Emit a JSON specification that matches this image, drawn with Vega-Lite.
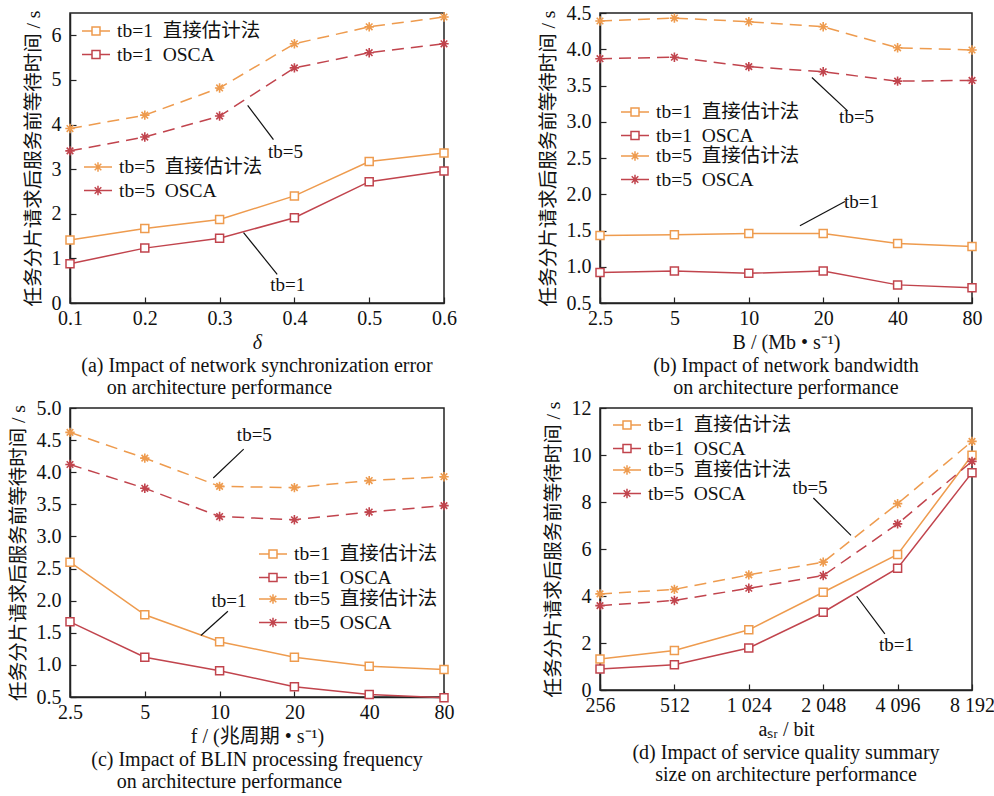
{
  "$schema": "https://vega.github.io/schema/vega-lite/v6.json",
  "padding": {"left": 7, "top": 2, "right": 5, "bottom": 5},
  "background": "white",
  "config": {
    "font": "Liberation Serif, Noto Sans CJK SC",
    "view": {"stroke": "#222", "strokeWidth": 1.5},
    "axis": {
      "grid": false, "domainColor": "#222", "domainWidth": 1.5, "tickColor": "#222", "tickSize": -6, "tickWidth": 1.2,
      "labelFont": "Liberation Serif", "labelFontSize": 20, "labelColor": "#111", "labelFlush": false, "labelOverlap": false,
      "titleFont": "Liberation Serif, Noto Sans CJK SC", "titleFontSize": 19.5, "titleFontWeight": "normal", "titleColor": "#111"
    },
    "axisX": {"labelPadding": 11, "titlePadding": 4, "titleFontSize": 20},
    "axisY": {"labelPadding": 15, "titlePadding": 8},
    "legend": {
      "title": null, "labelFont": "Liberation Serif, Noto Sans CJK SC", "labelFontSize": 19.5, "labelColor": "#111", "labelLimit": 400,
      "symbolSize": 400, "symbolStrokeWidth": 1.5, "symbolFillColor": "white", "rowPadding": 2.5, "labelOffset": 10, "padding": 0
    },
    "title": {"orient": "bottom", "anchor": "middle", "frame": "group", "font": "Liberation Serif", "fontSize": 20, "fontWeight": "normal", "lineHeight": 22, "offset": 4, "color": "#111"}
  },
  "datasets": {
    "a": [
      {"x": 0.1, "tb": 1, "s": "tb=1\u00a0\u00a0直接估计法", "y": 1.41}, {"x": 0.2, "tb": 1, "s": "tb=1\u00a0\u00a0直接估计法", "y": 1.67}, {"x": 0.3, "tb": 1, "s": "tb=1\u00a0\u00a0直接估计法", "y": 1.87},
      {"x": 0.4, "tb": 1, "s": "tb=1\u00a0\u00a0直接估计法", "y": 2.40}, {"x": 0.5, "tb": 1, "s": "tb=1\u00a0\u00a0直接估计法", "y": 3.17}, {"x": 0.6, "tb": 1, "s": "tb=1\u00a0\u00a0直接估计法", "y": 3.36},
      {"x": 0.1, "tb": 1, "s": "tb=1\u00a0\u00a0OSCA", "y": 0.88}, {"x": 0.2, "tb": 1, "s": "tb=1\u00a0\u00a0OSCA", "y": 1.23}, {"x": 0.3, "tb": 1, "s": "tb=1\u00a0\u00a0OSCA", "y": 1.45},
      {"x": 0.4, "tb": 1, "s": "tb=1\u00a0\u00a0OSCA", "y": 1.91}, {"x": 0.5, "tb": 1, "s": "tb=1\u00a0\u00a0OSCA", "y": 2.72}, {"x": 0.6, "tb": 1, "s": "tb=1\u00a0\u00a0OSCA", "y": 2.96},
      {"x": 0.1, "tb": 5, "s": "tb=5\u00a0\u00a0直接估计法", "y": 3.91}, {"x": 0.2, "tb": 5, "s": "tb=5\u00a0\u00a0直接估计法", "y": 4.21}, {"x": 0.3, "tb": 5, "s": "tb=5\u00a0\u00a0直接估计法", "y": 4.82},
      {"x": 0.4, "tb": 5, "s": "tb=5\u00a0\u00a0直接估计法", "y": 5.81}, {"x": 0.5, "tb": 5, "s": "tb=5\u00a0\u00a0直接估计法", "y": 6.19}, {"x": 0.6, "tb": 5, "s": "tb=5\u00a0\u00a0直接估计法", "y": 6.41},
      {"x": 0.1, "tb": 5, "s": "tb=5\u00a0\u00a0OSCA", "y": 3.41}, {"x": 0.2, "tb": 5, "s": "tb=5\u00a0\u00a0OSCA", "y": 3.72}, {"x": 0.3, "tb": 5, "s": "tb=5\u00a0\u00a0OSCA", "y": 4.19},
      {"x": 0.4, "tb": 5, "s": "tb=5\u00a0\u00a0OSCA", "y": 5.27}, {"x": 0.5, "tb": 5, "s": "tb=5\u00a0\u00a0OSCA", "y": 5.61}, {"x": 0.6, "tb": 5, "s": "tb=5\u00a0\u00a0OSCA", "y": 5.81}
    ],
    "a_notes": [
      {"x": 0.3375, "y": 4.43, "x2": 0.372, "y2": 3.66, "tx": 0.388, "ty": 3.39, "label": "tb=5"},
      {"x": 0.332, "y": 1.58, "x2": 0.377, "y2": 0.64, "tx": 0.391, "ty": 0.40, "label": "tb=1"}
    ],
    "b": [
      {"x": 2.5, "tb": 1, "s": "tb=1\u00a0\u00a0直接估计法", "y": 1.43}, {"x": 5, "tb": 1, "s": "tb=1\u00a0\u00a0直接估计法", "y": 1.44}, {"x": 10, "tb": 1, "s": "tb=1\u00a0\u00a0直接估计法", "y": 1.46},
      {"x": 20, "tb": 1, "s": "tb=1\u00a0\u00a0直接估计法", "y": 1.46}, {"x": 40, "tb": 1, "s": "tb=1\u00a0\u00a0直接估计法", "y": 1.32}, {"x": 80, "tb": 1, "s": "tb=1\u00a0\u00a0直接估计法", "y": 1.28},
      {"x": 2.5, "tb": 1, "s": "tb=1\u00a0\u00a0OSCA", "y": 0.92}, {"x": 5, "tb": 1, "s": "tb=1\u00a0\u00a0OSCA", "y": 0.94}, {"x": 10, "tb": 1, "s": "tb=1\u00a0\u00a0OSCA", "y": 0.91},
      {"x": 20, "tb": 1, "s": "tb=1\u00a0\u00a0OSCA", "y": 0.94}, {"x": 40, "tb": 1, "s": "tb=1\u00a0\u00a0OSCA", "y": 0.75}, {"x": 80, "tb": 1, "s": "tb=1\u00a0\u00a0OSCA", "y": 0.71},
      {"x": 2.5, "tb": 5, "s": "tb=5\u00a0\u00a0直接估计法", "y": 4.39}, {"x": 5, "tb": 5, "s": "tb=5\u00a0\u00a0直接估计法", "y": 4.43}, {"x": 10, "tb": 5, "s": "tb=5\u00a0\u00a0直接估计法", "y": 4.38},
      {"x": 20, "tb": 5, "s": "tb=5\u00a0\u00a0直接估计法", "y": 4.31}, {"x": 40, "tb": 5, "s": "tb=5\u00a0\u00a0直接估计法", "y": 4.02}, {"x": 80, "tb": 5, "s": "tb=5\u00a0\u00a0直接估计法", "y": 3.99},
      {"x": 2.5, "tb": 5, "s": "tb=5\u00a0\u00a0OSCA", "y": 3.87}, {"x": 5, "tb": 5, "s": "tb=5\u00a0\u00a0OSCA", "y": 3.89}, {"x": 10, "tb": 5, "s": "tb=5\u00a0\u00a0OSCA", "y": 3.76},
      {"x": 20, "tb": 5, "s": "tb=5\u00a0\u00a0OSCA", "y": 3.69}, {"x": 40, "tb": 5, "s": "tb=5\u00a0\u00a0OSCA", "y": 3.56}, {"x": 80, "tb": 5, "s": "tb=5\u00a0\u00a0OSCA", "y": 3.57}
    ],
    "b_notes": [
      {"x": 18.0, "y": 3.61, "x2": 25.1, "y2": 3.15, "tx": 27.3, "ty": 3.06, "label": "tb=5"},
      {"x": 16.1, "y": 1.565, "x2": 24.5, "y2": 1.90, "tx": 28.6, "ty": 1.90, "label": "tb=1"}
    ],
    "c": [
      {"x": 2.5, "tb": 1, "s": "tb=1\u00a0\u00a0直接估计法", "y": 2.60}, {"x": 5, "tb": 1, "s": "tb=1\u00a0\u00a0直接估计法", "y": 1.78}, {"x": 10, "tb": 1, "s": "tb=1\u00a0\u00a0直接估计法", "y": 1.36},
      {"x": 20, "tb": 1, "s": "tb=1\u00a0\u00a0直接估计法", "y": 1.12}, {"x": 40, "tb": 1, "s": "tb=1\u00a0\u00a0直接估计法", "y": 0.98}, {"x": 80, "tb": 1, "s": "tb=1\u00a0\u00a0直接估计法", "y": 0.93},
      {"x": 2.5, "tb": 1, "s": "tb=1\u00a0\u00a0OSCA", "y": 1.67}, {"x": 5, "tb": 1, "s": "tb=1\u00a0\u00a0OSCA", "y": 1.12}, {"x": 10, "tb": 1, "s": "tb=1\u00a0\u00a0OSCA", "y": 0.91},
      {"x": 20, "tb": 1, "s": "tb=1\u00a0\u00a0OSCA", "y": 0.66}, {"x": 40, "tb": 1, "s": "tb=1\u00a0\u00a0OSCA", "y": 0.54}, {"x": 80, "tb": 1, "s": "tb=1\u00a0\u00a0OSCA", "y": 0.49},
      {"x": 2.5, "tb": 5, "s": "tb=5\u00a0\u00a0直接估计法", "y": 4.62}, {"x": 5, "tb": 5, "s": "tb=5\u00a0\u00a0直接估计法", "y": 4.22}, {"x": 10, "tb": 5, "s": "tb=5\u00a0\u00a0直接估计法", "y": 3.78},
      {"x": 20, "tb": 5, "s": "tb=5\u00a0\u00a0直接估计法", "y": 3.76}, {"x": 40, "tb": 5, "s": "tb=5\u00a0\u00a0直接估计法", "y": 3.87}, {"x": 80, "tb": 5, "s": "tb=5\u00a0\u00a0直接估计法", "y": 3.93},
      {"x": 2.5, "tb": 5, "s": "tb=5\u00a0\u00a0OSCA", "y": 4.12}, {"x": 5, "tb": 5, "s": "tb=5\u00a0\u00a0OSCA", "y": 3.75}, {"x": 10, "tb": 5, "s": "tb=5\u00a0\u00a0OSCA", "y": 3.31},
      {"x": 20, "tb": 5, "s": "tb=5\u00a0\u00a0OSCA", "y": 3.26}, {"x": 40, "tb": 5, "s": "tb=5\u00a0\u00a0OSCA", "y": 3.38}, {"x": 80, "tb": 5, "s": "tb=5\u00a0\u00a0OSCA", "y": 3.48}
    ],
    "c_notes": [
      {"x": 9.43, "y": 3.91, "x2": 12.5, "y2": 4.36, "tx": 13.8, "ty": 4.58, "label": "tb=5"},
      {"x": 8.41, "y": 1.458, "x2": 10.8, "y2": 1.835, "tx": 10.9, "ty": 2.0, "label": "tb=1"}
    ],
    "d": [
      {"x": 256, "tb": 1, "s": "tb=1\u00a0\u00a0直接估计法", "y": 1.32}, {"x": 512, "tb": 1, "s": "tb=1\u00a0\u00a0直接估计法", "y": 1.68}, {"x": 1024, "tb": 1, "s": "tb=1\u00a0\u00a0直接估计法", "y": 2.56},
      {"x": 2048, "tb": 1, "s": "tb=1\u00a0\u00a0直接估计法", "y": 4.16}, {"x": 4096, "tb": 1, "s": "tb=1\u00a0\u00a0直接估计法", "y": 5.77}, {"x": 8192, "tb": 1, "s": "tb=1\u00a0\u00a0直接估计法", "y": 9.99},
      {"x": 256, "tb": 1, "s": "tb=1\u00a0\u00a0OSCA", "y": 0.89}, {"x": 512, "tb": 1, "s": "tb=1\u00a0\u00a0OSCA", "y": 1.07}, {"x": 1024, "tb": 1, "s": "tb=1\u00a0\u00a0OSCA", "y": 1.79},
      {"x": 2048, "tb": 1, "s": "tb=1\u00a0\u00a0OSCA", "y": 3.31}, {"x": 4096, "tb": 1, "s": "tb=1\u00a0\u00a0OSCA", "y": 5.18}, {"x": 8192, "tb": 1, "s": "tb=1\u00a0\u00a0OSCA", "y": 9.25},
      {"x": 256, "tb": 5, "s": "tb=5\u00a0\u00a0直接估计法", "y": 4.09}, {"x": 512, "tb": 5, "s": "tb=5\u00a0\u00a0直接估计法", "y": 4.28}, {"x": 1024, "tb": 5, "s": "tb=5\u00a0\u00a0直接估计法", "y": 4.90},
      {"x": 2048, "tb": 5, "s": "tb=5\u00a0\u00a0直接估计法", "y": 5.44}, {"x": 4096, "tb": 5, "s": "tb=5\u00a0\u00a0直接估计法", "y": 7.93}, {"x": 8192, "tb": 5, "s": "tb=5\u00a0\u00a0直接估计法", "y": 10.58},
      {"x": 256, "tb": 5, "s": "tb=5\u00a0\u00a0OSCA", "y": 3.59}, {"x": 512, "tb": 5, "s": "tb=5\u00a0\u00a0OSCA", "y": 3.81}, {"x": 1024, "tb": 5, "s": "tb=5\u00a0\u00a0OSCA", "y": 4.33},
      {"x": 2048, "tb": 5, "s": "tb=5\u00a0\u00a0OSCA", "y": 4.87}, {"x": 4096, "tb": 5, "s": "tb=5\u00a0\u00a0OSCA", "y": 7.07}, {"x": 8192, "tb": 5, "s": "tb=5\u00a0\u00a0OSCA", "y": 9.73}
    ],
    "d_notes": [
      {"x": 1869, "y": 8.17, "x2": 2653, "y2": 6.58, "tx": 1813, "ty": 8.59, "label": "tb=5"},
      {"x": 2798, "y": 3.99, "x2": 3637, "y2": 2.39, "tx": 4056, "ty": 1.93, "label": "tb=1"}
    ]
  },
  "columns": 2,
  "bounds": "flush",
  "spacing": {"row": 105, "column": 156},
  "concat": [
    {
      "width": 374, "height": 290,
      "title": {"text": ["(a) Impact of network synchronization error", "on architecture performance\u00a0\u00a0\u00a0\u00a0\u00a0\u00a0\u00a0\u00a0\u00a0\u00a0\u00a0\u00a0\u00a0\u00a0\u00a0\u200b"]},
      "encoding": {
        "x": {"field": "x", "type": "quantitative", "scale": {"domain": [0.1, 0.6], "nice": false, "zero": false}, "axis": {"values": [0.1, 0.2, 0.3, 0.4, 0.5, 0.6], "format": ".1f", "title": "δ", "titleFontStyle": "italic"}},
        "y": {"field": "y", "type": "quantitative", "scale": {"domain": [0, 6.5], "nice": false}, "axis": {"values": [0, 1, 2, 3, 4, 5, 6], "format": "d", "title": "任务分片请求后服务前等待时间 / s"}}
      },
      "layer": [
        {
          "data": {"name": "a"}, "transform": [{"filter": "datum.tb == 1"}],
          "encoding": {"stroke": {"field": "s", "type": "nominal", "scale": {"domain": ["tb=1\u00a0\u00a0直接估计法", "tb=1\u00a0\u00a0OSCA"], "range": ["#EE9B4E", "#C1444D"]}, "legend": {"orient": "none", "legendX": 15, "legendY": 7, "symbolType": "M-1.4,0H-0.4M0.4,0H1.4M-0.4,-0.4H0.4V0.4H-0.4Z"}}},
          "layer": [
            {"mark": {"type": "line", "strokeWidth": 1.5}},
            {"mark": {"type": "point", "shape": "square", "size": 64, "filled": true, "fill": "white", "strokeWidth": 1.5, "opacity": 1}}
          ]
        },
        {
          "data": {"name": "a"}, "transform": [{"filter": "datum.tb == 5"}],
          "encoding": {"stroke": {"field": "s", "type": "nominal", "scale": {"domain": ["tb=5\u00a0\u00a0直接估计法", "tb=5\u00a0\u00a0OSCA"], "range": ["#EE9B4E", "#C1444D"]}, "legend": {"orient": "none", "legendX": 17, "legendY": 143, "symbolType": "M-1.4,0H1.4M0,-0.47V0.47M-0.33,-0.33L0.33,0.33M-0.33,0.33L0.33,-0.33"}}},
          "layer": [
            {"mark": {"type": "line", "strokeWidth": 1.5, "strokeDash": [12, 7]}},
            {"mark": {"type": "point", "shape": "M0,-1V1M-1,0H1M-0.7,-0.7L0.7,0.7M-0.7,0.7L0.7,-0.7", "size": 88, "filled": false, "strokeWidth": 1.6, "opacity": 1}}
          ]
        },
        {
          "data": {"name": "a_notes"},
          "layer": [
            {"mark": {"type": "rule", "color": "#111", "strokeWidth": 1.2}, "encoding": {"x2": {"field": "x2"}, "y2": {"field": "y2"}}},
            {"mark": {"type": "text", "fontSize": 19, "color": "#111", "font": "Liberation Serif"}, "encoding": {"x": {"field": "tx", "type": "quantitative"}, "y": {"field": "ty", "type": "quantitative"}, "text": {"field": "label"}}}
          ]
        }
      ],
      "resolve": {"scale": {"stroke": "independent"}}
    },
    {
      "width": 372, "height": 290,
      "title": {"text": ["(b) Impact of network bandwidth", "on architecture performance"]},
      "encoding": {
        "x": {"field": "x", "type": "quantitative", "scale": {"type": "log", "base": 2, "domain": [2.5, 80], "nice": false}, "axis": {"values": [2.5, 5, 10, 20, 40, 80], "format": "~g", "title": "B / (Mb • s⁻¹)"}},
        "y": {"field": "y", "type": "quantitative", "scale": {"domain": [0.5, 4.5], "nice": false, "zero": false}, "axis": {"values": [0.5, 1, 1.5, 2, 2.5, 3, 3.5, 4, 4.5], "format": ".1f", "title": "任务分片请求后服务前等待时间 / s"}}
      },
      "layer": [
        {
          "data": {"name": "b"}, "transform": [{"filter": "datum.tb == 1"}],
          "encoding": {"stroke": {"field": "s", "type": "nominal", "scale": {"domain": ["tb=1\u00a0\u00a0直接估计法", "tb=1\u00a0\u00a0OSCA"], "range": ["#EE9B4E", "#C1444D"]}, "legend": {"orient": "none", "legendX": 24, "legendY": 88, "symbolType": "M-1.4,0H-0.4M0.4,0H1.4M-0.4,-0.4H0.4V0.4H-0.4Z"}}},
          "layer": [
            {"mark": {"type": "line", "strokeWidth": 1.5}},
            {"mark": {"type": "point", "shape": "square", "size": 64, "filled": true, "fill": "white", "strokeWidth": 1.5, "opacity": 1}}
          ]
        },
        {
          "data": {"name": "b"}, "transform": [{"filter": "datum.tb == 5"}],
          "encoding": {"stroke": {"field": "s", "type": "nominal", "scale": {"domain": ["tb=5\u00a0\u00a0直接估计法", "tb=5\u00a0\u00a0OSCA"], "range": ["#EE9B4E", "#C1444D"]}, "legend": {"orient": "none", "legendX": 24, "legendY": 132, "symbolType": "M-1.4,0H1.4M0,-0.47V0.47M-0.33,-0.33L0.33,0.33M-0.33,0.33L0.33,-0.33"}}},
          "layer": [
            {"mark": {"type": "line", "strokeWidth": 1.5, "strokeDash": [12, 7]}},
            {"mark": {"type": "point", "shape": "M0,-1V1M-1,0H1M-0.7,-0.7L0.7,0.7M-0.7,0.7L0.7,-0.7", "size": 88, "filled": false, "strokeWidth": 1.6, "opacity": 1}}
          ]
        },
        {
          "data": {"name": "b_notes"},
          "layer": [
            {"mark": {"type": "rule", "color": "#111", "strokeWidth": 1.2}, "encoding": {"x2": {"field": "x2"}, "y2": {"field": "y2"}}},
            {"mark": {"type": "text", "fontSize": 19, "color": "#111", "font": "Liberation Serif"}, "encoding": {"x": {"field": "tx", "type": "quantitative"}, "y": {"field": "ty", "type": "quantitative"}, "text": {"field": "label"}}}
          ]
        }
      ],
      "resolve": {"scale": {"stroke": "independent"}}
    },
    {
      "width": 374, "height": 289,
      "title": {"text": ["(c) Impact of BLIN processing frequency", "on architecture performance\u00a0\u00a0\u00a0\u00a0\u00a0\u00a0\u00a0\u00a0\u00a0\u00a0\u00a0\u200b"]},
      "encoding": {
        "x": {"field": "x", "type": "quantitative", "scale": {"type": "log", "base": 2, "domain": [2.5, 80], "nice": false}, "axis": {"values": [2.5, 5, 10, 20, 40, 80], "format": "~g", "title": "f / (兆周期 • s⁻¹)"}},
        "y": {"field": "y", "type": "quantitative", "scale": {"domain": [0.5, 5.0], "nice": false, "zero": false}, "axis": {"values": [0.5, 1, 1.5, 2, 2.5, 3, 3.5, 4, 4.5, 5], "format": ".1f", "title": "任务分片请求后服务前等待时间 / s"}}
      },
      "layer": [
        {
          "data": {"name": "c"}, "transform": [{"filter": "datum.tb == 1"}],
          "encoding": {"stroke": {"field": "s", "type": "nominal", "scale": {"domain": ["tb=1\u00a0\u00a0直接估计法", "tb=1\u00a0\u00a0OSCA"], "range": ["#EE9B4E", "#C1444D"]}, "legend": {"orient": "none", "legendX": 192, "legendY": 135, "symbolType": "M-1.4,0H-0.4M0.4,0H1.4M-0.4,-0.4H0.4V0.4H-0.4Z"}}},
          "layer": [
            {"mark": {"type": "line", "strokeWidth": 1.5}},
            {"mark": {"type": "point", "shape": "square", "size": 64, "filled": true, "fill": "white", "strokeWidth": 1.5, "opacity": 1}}
          ]
        },
        {
          "data": {"name": "c"}, "transform": [{"filter": "datum.tb == 5"}],
          "encoding": {"stroke": {"field": "s", "type": "nominal", "scale": {"domain": ["tb=5\u00a0\u00a0直接估计法", "tb=5\u00a0\u00a0OSCA"], "range": ["#EE9B4E", "#C1444D"]}, "legend": {"orient": "none", "legendX": 192, "legendY": 180, "symbolType": "M-1.4,0H1.4M0,-0.47V0.47M-0.33,-0.33L0.33,0.33M-0.33,0.33L0.33,-0.33"}}},
          "layer": [
            {"mark": {"type": "line", "strokeWidth": 1.5, "strokeDash": [12, 7]}},
            {"mark": {"type": "point", "shape": "M0,-1V1M-1,0H1M-0.7,-0.7L0.7,0.7M-0.7,0.7L0.7,-0.7", "size": 88, "filled": false, "strokeWidth": 1.6, "opacity": 1}}
          ]
        },
        {
          "data": {"name": "c_notes"},
          "layer": [
            {"mark": {"type": "rule", "color": "#111", "strokeWidth": 1.2}, "encoding": {"x2": {"field": "x2"}, "y2": {"field": "y2"}}},
            {"mark": {"type": "text", "fontSize": 19, "color": "#111", "font": "Liberation Serif"}, "encoding": {"x": {"field": "tx", "type": "quantitative"}, "y": {"field": "ty", "type": "quantitative"}, "text": {"field": "label"}}}
          ]
        }
      ],
      "resolve": {"scale": {"stroke": "independent"}}
    },
    {
      "width": 372, "height": 282,
      "title": {"text": ["(d) Impact of service quality summary", "size on architecture performance"]},
      "encoding": {
        "x": {"field": "x", "type": "quantitative", "scale": {"type": "log", "base": 2, "domain": [256, 8192], "nice": false}, "axis": {"values": [256, 512, 1024, 2048, 4096, 8192], "labelExpr": "replace(format(datum.value, ','), ',', ' ')", "title": "aₛᵣ / bit"}},
        "y": {"field": "y", "type": "quantitative", "scale": {"domain": [0, 12], "nice": false}, "axis": {"values": [0, 2, 4, 6, 8, 10, 12], "format": "d", "title": "任务分片请求后服务前等待时间 / s"}}
      },
      "layer": [
        {
          "data": {"name": "d"}, "transform": [{"filter": "datum.tb == 1"}],
          "encoding": {"stroke": {"field": "s", "type": "nominal", "scale": {"domain": ["tb=1\u00a0\u00a0直接估计法", "tb=1\u00a0\u00a0OSCA"], "range": ["#EE9B4E", "#C1444D"]}, "legend": {"orient": "none", "legendX": 16, "legendY": 6, "symbolType": "M-1.4,0H-0.4M0.4,0H1.4M-0.4,-0.4H0.4V0.4H-0.4Z"}}},
          "layer": [
            {"mark": {"type": "line", "strokeWidth": 1.5}},
            {"mark": {"type": "point", "shape": "square", "size": 64, "filled": true, "fill": "white", "strokeWidth": 1.5, "opacity": 1}}
          ]
        },
        {
          "data": {"name": "d"}, "transform": [{"filter": "datum.tb == 5"}],
          "encoding": {"stroke": {"field": "s", "type": "nominal", "scale": {"domain": ["tb=5\u00a0\u00a0直接估计法", "tb=5\u00a0\u00a0OSCA"], "range": ["#EE9B4E", "#C1444D"]}, "legend": {"orient": "none", "legendX": 16, "legendY": 51, "symbolType": "M-1.4,0H1.4M0,-0.47V0.47M-0.33,-0.33L0.33,0.33M-0.33,0.33L0.33,-0.33"}}},
          "layer": [
            {"mark": {"type": "line", "strokeWidth": 1.5, "strokeDash": [12, 7]}},
            {"mark": {"type": "point", "shape": "M0,-1V1M-1,0H1M-0.7,-0.7L0.7,0.7M-0.7,0.7L0.7,-0.7", "size": 88, "filled": false, "strokeWidth": 1.6, "opacity": 1}}
          ]
        },
        {
          "data": {"name": "d_notes"},
          "layer": [
            {"mark": {"type": "rule", "color": "#111", "strokeWidth": 1.2}, "encoding": {"x2": {"field": "x2"}, "y2": {"field": "y2"}}},
            {"mark": {"type": "text", "fontSize": 19, "color": "#111", "font": "Liberation Serif"}, "encoding": {"x": {"field": "tx", "type": "quantitative"}, "y": {"field": "ty", "type": "quantitative"}, "text": {"field": "label"}}}
          ]
        }
      ],
      "resolve": {"scale": {"stroke": "independent"}}
    }
  ]
}
